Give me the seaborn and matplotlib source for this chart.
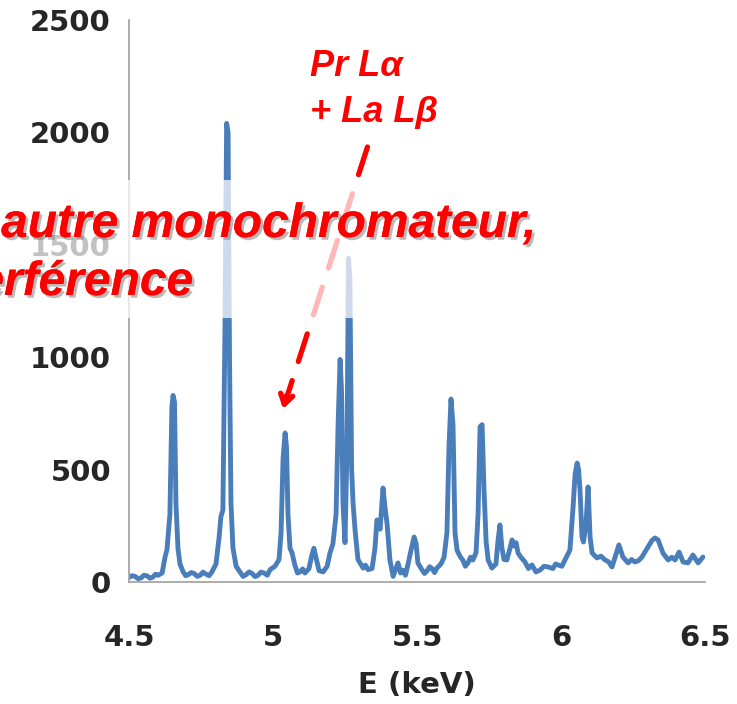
import matplotlib
matplotlib.use("Agg")
import matplotlib.pyplot as plt
import matplotlib.patheffects as pe
from matplotlib.patches import Rectangle
import seaborn as sns
import pandas as pd

# ---- data ----
energy_keV = [
    4.500, 4.510, 4.521, 4.531, 4.542, 4.552, 4.562, 4.573, 4.583, 4.592,
    4.601, 4.615, 4.625, 4.632, 4.642,
    4.649, 4.653, 4.658, 4.663, 4.670, 4.677, 4.688, 4.697, 4.705, 4.716,
    4.726, 4.737, 4.747, 4.757,
    4.767, 4.778, 4.788, 4.802, 4.813, 4.819, 4.826, 4.833, 4.839, 4.844,
    4.849, 4.854, 4.861, 4.872, 4.885, 4.896, 4.906, 4.917, 4.927, 4.938,
    4.948, 4.958, 4.969, 4.980, 4.990, 5.007,
    5.021, 5.028, 5.035, 5.042, 5.047, 5.052, 5.059, 5.066, 5.076, 5.085,
    5.094, 5.103, 5.111, 5.125, 5.135, 5.142, 5.149, 5.160, 5.174, 5.188,
    5.198, 5.208,
    5.219, 5.226, 5.233, 5.238, 5.243, 5.250, 5.257, 5.262, 5.267, 5.273,
    5.278, 5.285, 5.295, 5.313, 5.321, 5.330, 5.344, 5.354, 5.361, 5.372,
    5.377, 5.382, 5.389, 5.396, 5.406, 5.417, 5.427, 5.434, 5.443, 5.451,
    5.460, 5.469, 5.479,
    5.490, 5.497, 5.503, 5.517, 5.526, 5.535, 5.544, 5.552, 5.561, 5.569,
    5.583, 5.594, 5.604,
    5.611, 5.618, 5.625, 5.632, 5.639, 5.649, 5.660, 5.668, 5.677, 5.686,
    5.694, 5.705,
    5.712, 5.719, 5.726, 5.733, 5.740, 5.747, 5.760, 5.774, 5.781, 5.788,
    5.795, 5.802, 5.812, 5.823, 5.830, 5.837, 5.844, 5.851, 5.861, 5.875,
    5.887, 5.899, 5.913, 5.927, 5.941, 5.955, 5.972, 5.981, 5.990, 6.003,
    6.014, 6.031, 6.042, 6.049, 6.056,
    6.061, 6.066, 6.073, 6.078, 6.087, 6.094, 6.101, 6.108, 6.125, 6.139,
    6.153, 6.165, 6.177, 6.188, 6.201, 6.215, 6.233, 6.245, 6.257, 6.269,
    6.281, 6.302, 6.316, 6.326, 6.337, 6.354, 6.372, 6.385, 6.396, 6.410,
    6.424, 6.441, 6.458, 6.476, 6.493,
]
counts = [
    20, 28, 25, 15, 18, 30, 28, 17, 22, 35,
    30, 40, 110, 145, 300,
    780, 830, 800, 350, 150, 80, 45, 28, 32, 42,
    38, 25, 30, 44,
    35, 28, 45, 80, 200, 290, 320, 1100, 2040, 2000,
    1000, 350, 150, 70, 45, 25, 32, 45, 38, 24,
    30, 44, 40, 30, 55, 70,
    100, 220, 550, 663, 600, 300, 150, 130, 75, 40,
    45, 58, 40, 60, 120, 150, 110, 50, 45, 70,
    130, 170,
    300, 700, 990, 850, 350, 175, 600, 1440, 1350, 500,
    350, 230, 100, 62, 75, 55, 60, 150, 276, 235,
    330, 418, 330, 260, 98, 25, 60, 85, 40, 53,
    30, 80, 140,
    200, 170, 85, 55, 38, 50, 68, 60, 42, 62,
    80, 110, 220,
    600, 814, 700, 218, 142, 115, 95, 70, 85, 110,
    98, 130,
    300, 690, 700, 400, 180, 98, 62, 80, 180, 254,
    150, 100, 98, 150, 187, 160, 175, 129, 110, 89,
    60, 76, 45, 53, 70, 67, 60, 80, 76, 70,
    98, 142, 334, 480, 529,
    500, 409, 200, 178, 262, 423, 200, 129, 107, 115,
    98, 90, 67, 111, 165, 111, 85, 100, 89, 95,
    111, 156, 185, 196, 187, 129, 98, 110, 98, 133,
    89, 85, 120, 85, 111,
]
x_ticks = [4.5, 5.0, 5.5, 6.0, 6.5]
x_tick_labels = ["4.5", "5", "5.5", "6", "6.5"]
y_ticks = [0, 500, 1000, 1500, 2000, 2500]
y_tick_labels = ["0", "500", "1000", "1500", "2000", "2500"]
x_label = "E (keV)"
annot_lines = ["Pr L\u03b1", "+ La L\u03b2"]
overlay_lines = ["autre monochromateur,", "erf\u00e9rence"]
arrow_tip = (5.035, 770)
arrow_start = (5.328, 1935)

df = pd.DataFrame({"E": energy_keV, "I": counts})

sns.set_style("white")
plt.rcParams["font.family"] = ["DejaVu Sans"]

W, H = 737, 704
fig = plt.figure(figsize=(W / 100, H / 100), dpi=100)
ax = fig.add_axes([129 / W, 1 - 582 / H, (705 - 129) / W, (582 - 20) / H])

sns.lineplot(data=df, x="E", y="I", ax=ax, color="#4A7EBB", linewidth=3.5,
             sort=False, estimator=None)
for ln in ax.lines:
    ln.set_solid_joinstyle("round")
    ln.set_solid_capstyle("round")

ax.set_xlim(4.5, 6.5)
ax.set_ylim(0, 2500)
ax.set_xticks(x_ticks)
ax.set_xticklabels(x_tick_labels, fontsize=21, fontweight="bold")
ax.set_yticks(y_ticks)
ax.set_yticklabels(y_tick_labels, fontsize=21, fontweight="bold")
ax.tick_params(axis="x", length=0, pad=30)
ax.tick_params(axis="y", length=0, pad=13)
ax.set_xlabel(x_label, fontsize=21, fontweight="bold", labelpad=14)
ax.set_ylabel("")
for s in ["top", "right"]:
    ax.spines[s].set_visible(False)
for s in ["left", "bottom"]:
    ax.spines[s].set_color("#a6a6a6")
    ax.spines[s].set_linewidth(1.3)
ax.patch.set_alpha(0)

# dashed arrow
ax.annotate("", xy=arrow_tip, xytext=arrow_start,
            arrowprops=dict(arrowstyle="-", color="#ff0000", lw=3.8,
                            linestyle=(0, (5.5, 3.8)), shrinkA=0, shrinkB=4),
            zorder=4)
ax.annotate("", xy=arrow_tip, xytext=(arrow_tip[0] + 0.012, arrow_tip[1] + 60),
            arrowprops=dict(arrowstyle="->,head_length=0.7,head_width=0.45",
                            color="#ff0000", lw=3.8, shrinkA=0, shrinkB=0),
            zorder=4)

# annotation text
red_font = dict(family=["Liberation Sans", "DejaVu Sans"], fontsize=26,
                fontweight="bold", fontstyle="italic", color="#ff0000")
fig.text(310 / W, 1 - 76 / H, annot_lines[0], ha="left", va="baseline", **red_font)
fig.text(310 / W, 1 - 122 / H, annot_lines[1], ha="left", va="baseline", **red_font)

# semi-transparent white band
fig.patches.append(Rectangle((0, 1 - 318 / H), 545 / W, 138 / H,
                             transform=fig.transFigure, facecolor="white",
                             edgecolor="none", alpha=0.72, zorder=5))

shadow = [pe.withSimplePatchShadow(offset=(2, -2), shadow_rgbFace="#777777", alpha=0.5),
          pe.Normal()]
big_font = dict(family=["Liberation Sans", "DejaVu Sans"], fontsize=34.5,
                fontweight="bold", fontstyle="italic", color="#ff0000")
t1 = fig.text(536 / W, 1 - 237 / H, overlay_lines[0], ha="right", va="baseline",
              zorder=6, **big_font)
t2 = fig.text(193 / W, 1 - 295 / H, overlay_lines[1], ha="right", va="baseline",
              zorder=6, **big_font)
t1.set_path_effects(shadow)
t2.set_path_effects(shadow)

fig.savefig("out.png", dpi=100)
